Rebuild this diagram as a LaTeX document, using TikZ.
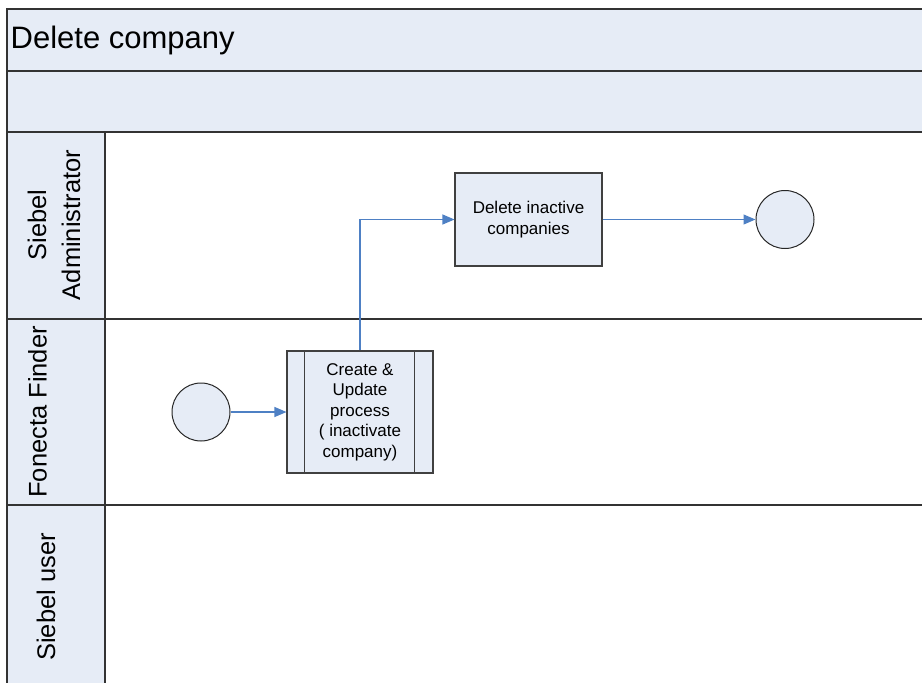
\documentclass[tikz,border=0pt]{standalone}
\usepackage{fontspec}
\setmainfont{Liberation Sans}
\usetikzlibrary{arrows.meta,positioning}
\definecolor{lanefill}{RGB}{230,236,246}
\definecolor{flowblue}{RGB}{78,128,196}
\tikzset{frame/.style={draw=black!80, line width=1.4pt}}
\tikzset{task/.style={draw=black!75, line width=1.1pt, fill=lanefill, inner sep=0pt, align=center, font=\fontsize{17}{20.5}\selectfont}}
\tikzset{event/.style={circle, draw=black!85, line width=1pt, fill=lanefill, minimum size=58pt, inner sep=0pt}}
\tikzset{flow/.style={draw=flowblue, line width=1.1pt, -{Triangle[length=12pt,width=10pt]}}}
\tikzset{lanelabel/.style={rotate=90, anchor=base, inner sep=0pt, align=center, font=\fontsize{25.5}{34}\selectfont}}

\begin{document}
\begin{tikzpicture}[x=1pt,y=-1pt]
                        \useasboundingbox (0,0) rectangle (922,683);
                        \clip (0,0) rectangle (922,683);

                        % pool and lanes
                        \fill[lanefill] (7,9) rectangle (930,132);
                        \fill[lanefill] (7,132) rectangle (105,700);
                        \draw[frame] (930,9) -- (7,9) -- (7,700);
                        \draw[frame]
                        (7,71) -- (930,71)
                        (7,132) -- (930,132)
                        (7,319) -- (930,319)
                        (7,505) -- (930,505)
                        (105,132) -- (105,700);

                        \node[anchor=base west, inner sep=0pt, font=\fontsize{31}{36}\selectfont] (title) at (10.5, 48) {Delete company};

                        \node[lanelabel] (admin) at (80, 225) {Siebel\\Administrator};
                        \node[lanelabel] (finder) at (46.5, 412) {Fonecta Finder};
                        \node[lanelabel] (user) at (55, 597) {Siebel user};

                        % flow objects
                        \node[event] (start) at (201, 412) {};
                        \node[task, minimum width=146pt, minimum height=122pt] (proc) at (360, 412) {Create \&\\Update\\process\\( inactivate\\company)};
                        \node[task, minimum width=147pt, minimum height=93pt] (del) at (528.5, 219.5) {Delete inactive\\companies};
                        \node[event] (finish) at (785, 219.5) {};

                        \draw[draw=black!75, line width=1.1pt]
                        ([xshift=18pt]proc.north west) -- ([xshift=18pt]proc.south west)
                        ([xshift=-19pt]proc.north east) -- ([xshift=-19pt]proc.south east);

                        \draw[flow] (start) -- (proc);
                        \draw[flow] (proc.north) |- (del.west);
                        \draw[flow] (del) -- (finish);
                    \end{tikzpicture}
\end{document}
